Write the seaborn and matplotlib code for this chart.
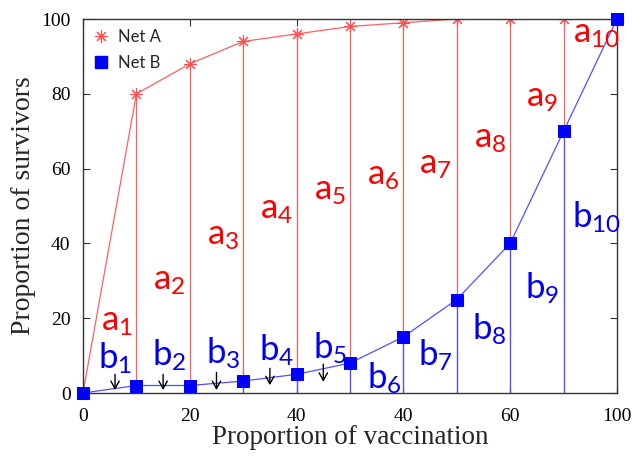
import matplotlib
matplotlib.use("Agg")
import matplotlib.pyplot as plt
import seaborn as sns
import pandas as pd
from matplotlib.lines import Line2D

# ---- data ----
positions = [0, 1, 2, 3, 4, 5, 6, 7, 8, 9, 10]
net_a = [0, 80, 88, 94, 96, 98, 99, 100, 100, 100, 100]
net_b = [0, 2, 2, 3.2, 5, 8, 15, 25, 40, 70, 100]
tick_positions = [0, 2, 4, 6, 8, 10]
tick_labels = ["0", "20", "40", "40", "60", "100"]
y_ticks = [0, 20, 40, 60, 80, 100]

a_label_x = [0.63, 1.62, 2.63, 3.63, 4.62, 5.62, 6.6, 7.63, 8.6, 9.62]
a_label_y = [19, 30, 42, 49, 54, 58, 61, 68, 79, 96]
b_label_x = [0.6, 1.62, 2.63, 3.63, 4.62, 5.64, 6.6, 7.6, 8.6, 9.62]
b_label_y = [9.4, 10, 10.7, 11.5, 12, 4, 10, 17, 28, 47]
arrow_x = [0.6, 1.5, 2.5, 3.5, 4.5]
arrow_top = [5.0, 5.0, 5.5, 6.6, 7.7]
arrow_bottom = [0.8, 0.8, 0.8, 2.1, 3.0]

df = pd.DataFrame({"pos": positions, "Net A": net_a, "Net B": net_b})

sns.set_theme(style="ticks")
plt.rcParams["font.family"] = ["Liberation Serif", "DejaVu Serif"]

fig = plt.figure(figsize=(6.33, 4.57), dpi=100)
ax = fig.add_axes([83 / 633, 64 / 457, 534 / 633, 374 / 457])

red_line = "#ff6060"
blue_line = "#5050ff"

ax.vlines(df["pos"][1:10], 0, df["Net A"][1:10], color=red_line, lw=0.9, zorder=1)
ax.vlines(df["pos"][1:10], 0, df["Net B"][1:10], color=blue_line, lw=0.9, zorder=1.5)

sns.lineplot(data=df, x="pos", y="Net A", ax=ax, color=red_line, lw=0.9,
             marker=(8, 2, 0), markersize=9, markeredgecolor="#ff5050",
             markeredgewidth=0.8, zorder=2)
sns.lineplot(data=df, x="pos", y="Net B", ax=ax, color=blue_line, lw=0.9,
             marker="s", markersize=8, markeredgecolor="#0000ff",
             markerfacecolor="#0000ff", zorder=3, clip_on=False)

sans = ["Lato", "DejaVu Sans"]

for i in range(10):
    ax.text(a_label_x[i], a_label_y[i], r"$\mathregular{a_{%d}}$" % (i + 1),
            color="#ff0000", fontsize=25, family=sans, ha="center",
            va="center", zorder=5)
    ax.text(b_label_x[i], b_label_y[i], r"$\mathregular{b_{%d}}$" % (i + 1),
            color="#0000ee", fontsize=25, family=sans, ha="center",
            va="center", zorder=5)

for x, yt, yb in zip(arrow_x, arrow_top, arrow_bottom):
    ax.annotate("", xy=(x, yb), xytext=(x, yt),
                arrowprops=dict(arrowstyle="->,head_length=0.45,head_width=0.25",
                                color="black", lw=1.0, shrinkA=0, shrinkB=0))

ax.set_xlim(0, 10)
ax.set_ylim(0, 100)
ax.set_xticks(tick_positions)
ax.set_xticklabels(tick_labels)
ax.set_yticks(y_ticks)
ax.tick_params(direction="in", top=True, right=True, labelsize=14, length=5,
               width=0.8, colors="#333333", labelcolor="black")
ax.tick_params(axis="x", pad=11)
ax.tick_params(axis="y", pad=9)
ax.set_xlabel("Proportion of vaccination", fontsize=19.5, labelpad=0)
ax.set_ylabel("Proportion of survivors", fontsize=20, labelpad=4)
for s in ax.spines.values():
    s.set_color("#333333")
    s.set_linewidth(1.0)

handles = [
    Line2D([], [], ls="none", marker=(8, 2, 0), markersize=9,
           markeredgecolor="#ff5050", markeredgewidth=0.8),
    Line2D([], [], ls="none", marker="s", markersize=8,
           markeredgecolor="#0000ff", markerfacecolor="#0000ff"),
]
ax.legend(handles, ["Net A", "Net B"], loc="upper left", frameon=False,
          prop={"family": sans, "size": 12}, handletextpad=0.5,
          handlelength=1.0, labelspacing=0.6, borderaxespad=0.3,
          borderpad=0.3)

fig.savefig("out.png", dpi=100)
